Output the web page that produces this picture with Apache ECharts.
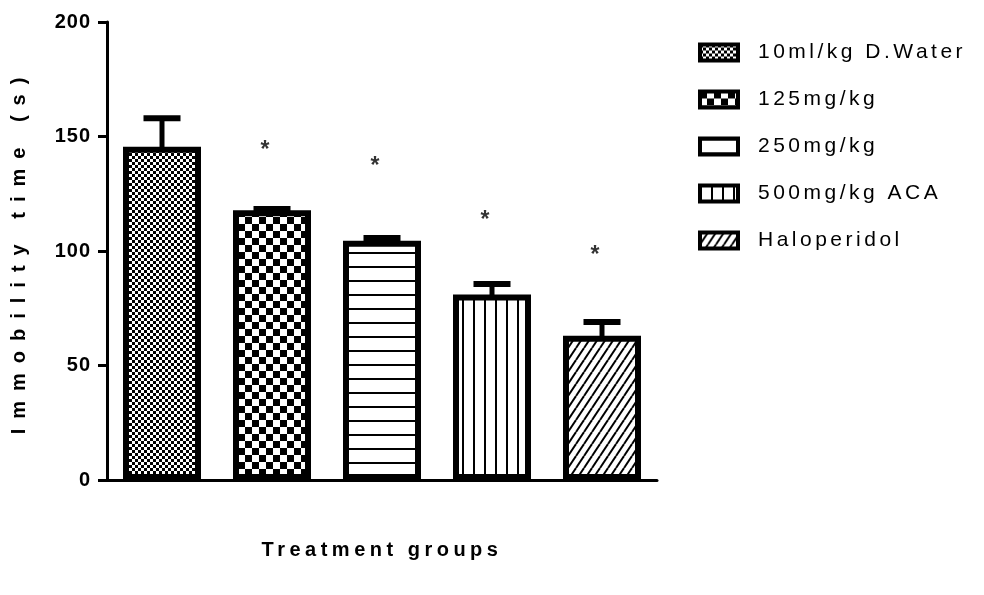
<!DOCTYPE html>
<html><head><meta charset="utf-8">
<script src="https://cdn.jsdelivr.net/npm/echarts@6/dist/echarts.min.js"></script>
<style>html,body{margin:0;padding:0;background:#fff}#c{width:984px;height:595px}</style>
</head><body><div id="c"></div>
<script>
// ---- data ----
const categories = ['10ml/kg D.Water', '125mg/kg', '250mg/kg', '500mg/kg ACA', 'Haloperidol'];
const means = [145.5, 117.8, 104.5, 81, 63];
const upperErr = [158, 118.3, 105.7, 85.6, 69];
const starCats = [1, 2, 3, 4];
const starY = [146.5, 139.5, 116, 100.5];
const yMin = 0, yMax = 200, yStep = 50;
const xTitle = 'Treatment groups';
const yTitle = 'Immobility time (s)';

// ---- letter spacing (GraphPad-like wide text) ----
const FONT = '"Liberation Sans", Arial, sans-serif';
const spacingMap = {};
categories.forEach(c => spacingMap[c] = 3.5);
spacingMap[xTitle] = 4.5;
spacingMap[yTitle] = 10;
['0','50','100','150','200'].forEach(t => spacingMap[t] = 1);
const origFill = CanvasRenderingContext2D.prototype.fillText;
CanvasRenderingContext2D.prototype.fillText = function (t, x, y, w) {
  const sp = spacingMap[t];
  if (sp !== undefined && 'letterSpacing' in this) {
    const prev = this.letterSpacing;
    this.letterSpacing = sp + 'px';
    const r = w === undefined ? origFill.call(this, t, x, y) : origFill.call(this, t, x, y, w);
    this.letterSpacing = prev;
    return r;
  }
  return w === undefined ? origFill.call(this, t, x, y) : origFill.call(this, t, x, y, w);
};

// ---- fill patterns ----
function tile(w, h, draw) {
  const c = document.createElement('canvas');
  c.width = w; c.height = h;
  const g = c.getContext('2d');
  g.fillStyle = '#fff'; g.fillRect(0, 0, w, h);
  g.fillStyle = '#000'; g.strokeStyle = '#000';
  draw(g, w, h);
  return { image: c, repeat: 'repeat' };
}
const patterns = [
  tile(6, 6, g => { g.fillRect(0, 0, 3, 3); g.fillRect(3, 3, 3, 3); }),
  tile(14, 14, g => { g.fillRect(0, 0, 7, 7); g.fillRect(7, 7, 7, 7); }),
  tile(4, 14, g => { g.fillRect(0, 0, 4, 2); }),
  tile(11, 4, g => { g.fillRect(0, 0, 2, 4); }),
  tile(8, 12, (g, w, h) => {
    g.lineWidth = 2;
    for (let k = -1; k <= 1; k++) {
      g.beginPath(); g.moveTo(k * w, h); g.lineTo(k * w + w, 0); g.stroke();
    }
  })
];

const barSeries = categories.map((name, i) => ({
  name, type: 'bar', stack: 'g', barWidth: 78,
  data: means.map((v, j) => (j === i ? v : '-')),
  itemStyle: { color: patterns[i], borderColor: '#000', borderWidth: 6 },
  z: 2
}));

const errSeries = {
  type: 'custom', name: 'err', silent: true, z: 3,
  data: means.map((m, i) => [i, m, upperErr[i]]),
  encode: { x: 0, y: [1, 2] },
  renderItem(params, api) {
    const b = api.coord([api.value(0), api.value(1)]);
    const t = api.coord([api.value(0), api.value(2)]);
    return {
      type: 'group', children: [
        { type: 'line', shape: { x1: b[0], y1: b[1] + 3, x2: b[0], y2: t[1] }, style: { stroke: '#000', lineWidth: 5 } },
        { type: 'line', shape: { x1: b[0] - 18.5, y1: t[1], x2: b[0] + 18.5, y2: t[1] }, style: { stroke: '#000', lineWidth: 6 } }
      ]
    };
  }
};

const starSeries = {
  type: 'scatter', name: 'sig', silent: true, symbolSize: 1,
  itemStyle: { color: 'rgba(0,0,0,0)' },
  data: starCats.map((c, k) => [c, starY[k]]),
  label: { show: true, formatter: '*', position: 'inside', fontSize: 23, fontWeight: 'bold', color: '#000', fontFamily: FONT, offset: [-2, 6] }
};

const chart = echarts.init(document.getElementById('c'), null, { renderer: 'canvas' });
chart.setOption({
  animation: false,
  backgroundColor: '#fff',
  grid: { left: 107, right: 327, top: 22, bottom: 115 },
  legend: {
    orient: 'vertical', left: 693, top: 37, icon: 'rect',
    itemWidth: 38, itemHeight: 16, itemGap: 26,
    itemStyle: { borderWidth: 4, borderColor: '#000' },
    textStyle: { fontSize: 21, color: '#000', fontFamily: FONT, padding: [0, 0, 0, 15] },
    data: categories
  },
  xAxis: {
    type: 'category', data: categories,
    axisLine: { lineStyle: { color: '#000', width: 3 } },
    axisTick: { alignWithLabel: true, length: 10, lineStyle: { color: '#000', width: 3 } },
    axisLabel: { show: false },
    splitLine: { show: false },
    name: xTitle, nameLocation: 'middle', nameGap: 60,
    nameTextStyle: { fontSize: 20, fontWeight: 'bold', color: '#000', fontFamily: FONT }
  },
  yAxis: {
    type: 'value', min: yMin, max: yMax, interval: yStep,
    axisLine: { show: true, lineStyle: { color: '#000', width: 3 } },
    axisTick: { show: true, length: 9, lineStyle: { color: '#000', width: 3 } },
    axisLabel: { fontSize: 20, fontWeight: 'bold', color: '#000', fontFamily: FONT, margin: 16 },
    splitLine: { show: false },
    name: yTitle, nameLocation: 'middle', nameGap: 78,
    nameTextStyle: { fontSize: 20, fontWeight: 'bold', color: '#000', fontFamily: FONT }
  },
  series: [...barSeries, errSeries, starSeries]
});
</script></body></html>
